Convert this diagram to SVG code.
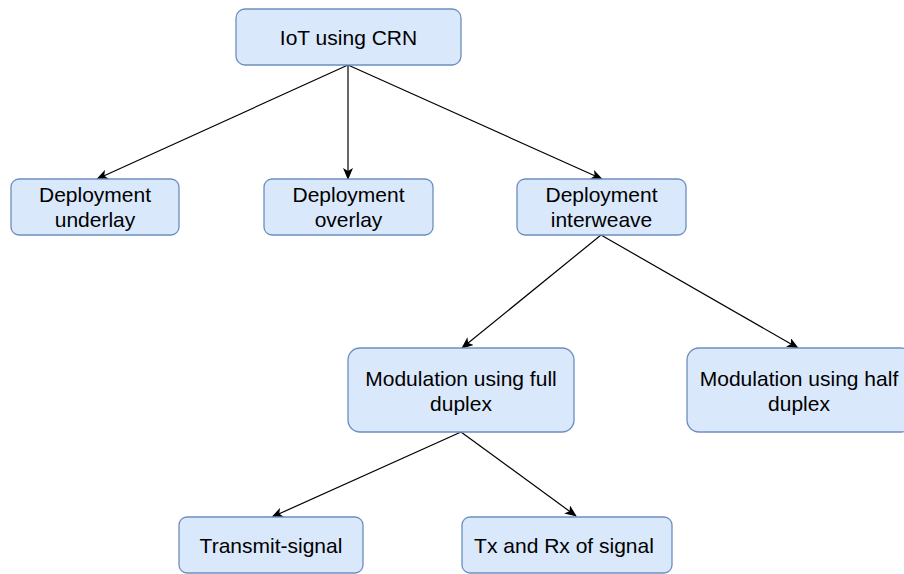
<svg xmlns="http://www.w3.org/2000/svg" width="904" height="574" viewBox="0 0 904 574">
  <style>
    .box { fill: #dae8fc; stroke: #6c8ebf; stroke-width: 1.3; }
    .lbl { font-family: "Liberation Sans", Arial, Helvetica, sans-serif; font-size: 21px; fill: #000; text-anchor: middle; }
    .edge { fill: none; stroke: #000; stroke-width: 1.2; }
  </style>
  <defs>
    <marker id="arrow" viewBox="0 0 12 10" refX="11" refY="5" markerWidth="12" markerHeight="10" markerUnits="userSpaceOnUse" orient="auto">
      <path d="M0,0 L12,5 L0,10 L3,5 z" fill="#000"/>
    </marker>
  </defs>

  <rect width="904" height="574" fill="#fff"/>

  <g id="connectors">
    <line class="edge" x1="348" y1="65" x2="97" y2="179" marker-end="url(#arrow)"/>
    <line class="edge" x1="348" y1="65" x2="348" y2="179" marker-end="url(#arrow)"/>
    <line class="edge" x1="348" y1="65" x2="602" y2="179" marker-end="url(#arrow)"/>
    <line class="edge" x1="601" y1="235" x2="462" y2="348" marker-end="url(#arrow)"/>
    <line class="edge" x1="601" y1="235" x2="798" y2="348" marker-end="url(#arrow)"/>
    <line class="edge" x1="461" y1="432" x2="272" y2="517" marker-end="url(#arrow)"/>
    <line class="edge" x1="461" y1="432" x2="576" y2="516" marker-end="url(#arrow)"/>
  </g>

  <g id="iot-crn">
    <rect class="box" x="236" y="9" width="225" height="56" rx="9"/>
    <text class="lbl" x="348.5" y="44.5">IoT using CRN</text>
  </g>

  <g id="deploy-underlay">
    <rect class="box" x="11" y="179" width="168" height="56" rx="8"/>
    <text class="lbl" x="95" y="201.5">Deployment</text>
    <text class="lbl" x="95" y="226.5">underlay</text>
  </g>

  <g id="deploy-overlay">
    <rect class="box" x="264" y="179" width="169" height="56" rx="8"/>
    <text class="lbl" x="348.5" y="201.5">Deployment</text>
    <text class="lbl" x="348.5" y="226.5">overlay</text>
  </g>

  <g id="deploy-interweave">
    <rect class="box" x="517" y="179" width="169" height="56" rx="8"/>
    <text class="lbl" x="601.5" y="201.5">Deployment</text>
    <text class="lbl" x="601.5" y="226.5">interweave</text>
  </g>

  <g id="mod-full">
    <rect class="box" x="348" y="348" width="226" height="84" rx="12"/>
    <text class="lbl" x="461" y="385.5">Modulation using full</text>
    <text class="lbl" x="461" y="410.5">duplex</text>
  </g>

  <g id="mod-half">
    <rect class="box" x="687" y="348" width="226" height="84" rx="12"/>
    <text class="lbl" x="799" y="385.5">Modulation using half</text>
    <text class="lbl" x="799" y="410.5">duplex</text>
  </g>

  <g id="transmit">
    <rect class="box" x="179" y="517" width="184" height="56" rx="8"/>
    <text class="lbl" x="271" y="552.5">Transmit-signal</text>
  </g>

  <g id="tx-rx">
    <rect class="box" x="462" y="517" width="210" height="56" rx="8"/>
    <text class="lbl" x="564" y="552.5">Tx and Rx of signal</text>
  </g>
</svg>
